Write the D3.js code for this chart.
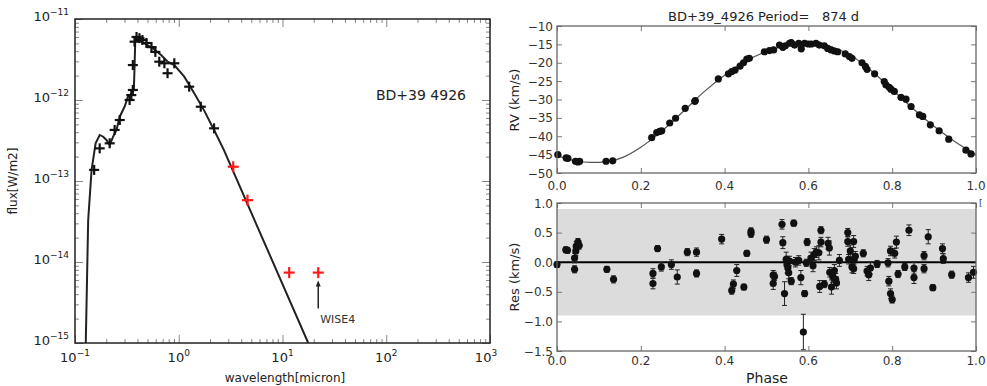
<!DOCTYPE html>
<html><head><meta charset="utf-8">
<script src="https://cdn.jsdelivr.net/npm/d3@7"></script>
<style>body{margin:0;background:#fff}svg{display:block;font-family:"DejaVu Sans",sans-serif}</style>
</head><body><svg id="c" width="987" height="386"></svg>
<script>
// ---------- SED panel data ----------
const sedModelWave = [0.127,0.134,0.1445,0.158,0.173,0.187,0.201,0.216,0.233,0.251,0.27,0.301,0.324,0.353,0.369,0.375,0.381,0.404,0.468,0.562,0.676,0.782,0.906,1.13,1.41,1.75,2.19,2.72,17.7];
const sedModelFlux = [1.0e-15,3.3e-14,1.37e-13,2.92e-13,3.7e-13,3.52e-13,3.21e-13,2.78e-13,3.52e-13,4.27e-13,6.22e-13,8.3e-13,1.1e-12,1.21e-12,1.33e-12,2.58e-12,5.5e-12,5.5e-12,5.0e-12,4.35e-12,3.6e-12,2.97e-12,2.7e-12,1.94e-12,1.21e-12,7.5e-13,4.27e-13,2.42e-13,1.0e-15];
const photWave = [0.153,0.173,0.216,0.241,0.27,0.336,0.349,0.361,0.361,0.375,0.392,0.418,0.447,0.488,0.546,0.595,0.649,0.727,0.78,0.906,1.26,1.63,2.19];
const photFlux = [1.37e-13,2.53e-13,2.92e-13,4.27e-13,5.66e-13,1.0e-12,1.15e-12,1.33e-12,2.7e-12,5.25e-12,6.0e-12,5.8e-12,5.5e-12,5.06e-12,4.5e-12,3.92e-12,2.97e-12,2.84e-12,2.14e-12,2.84e-12,1.46e-12,8.26e-13,4.47e-13];
const wiseWave = [3.35,4.6,11.6,22.1];
const wiseFlux = [1.5e-13,5.8e-14,7.4e-15,7.4e-15];
const sedXTicks = [0.1,1,10,100,1000];
const sedXExp = ["\u22121","0","1","2","3"];
const sedYTicks = [1e-11,1e-12,1e-13,1e-14,1e-15];
const sedYExp = ["\u221211","\u221212","\u221213","\u221214","\u221215"];

// ---------- RV panel data ----------
const rvPhase = [0.002,0.022,0.026,0.044,0.05,0.054,0.117,0.133,0.226,0.238,0.245,0.25,0.269,0.283,0.306,0.329,0.33,0.385,0.409,0.417,0.425,0.437,0.445,0.453,0.459,0.495,0.507,0.517,0.531,0.539,0.545,0.555,0.559,0.567,0.577,0.583,0.591,0.6,0.607,0.618,0.626,0.638,0.646,0.654,0.662,0.67,0.688,0.698,0.704,0.728,0.736,0.74,0.758,0.781,0.785,0.793,0.797,0.805,0.821,0.833,0.845,0.865,0.873,0.891,0.912,0.935,0.976,0.988];
const rvValue = [-45.0,-45.9,-46.0,-46.8,-47.0,-46.8,-46.8,-46.7,-40.4,-39.0,-38.7,-38.5,-36.4,-35.1,-32.4,-30.5,-30.3,-24.4,-23.0,-22.4,-22.0,-20.9,-20.0,-19.0,-18.8,-17.0,-16.7,-16.5,-15.2,-15.8,-15.4,-14.7,-14.5,-15.2,-14.7,-16.2,-14.7,-14.9,-14.9,-14.7,-15.2,-15.4,-16.1,-16.5,-16.8,-17.0,-17.6,-18.3,-18.8,-20.0,-21.0,-21.8,-23.0,-25.1,-26.0,-26.7,-27.2,-27.8,-29.4,-29.9,-31.9,-34.2,-34.6,-36.9,-38.5,-40.8,-43.8,-44.8];
const fitPhase = [0.0,0.02,0.05,0.08,0.1,0.13,0.16,0.2,0.25,0.3,0.35,0.4,0.45,0.5,0.55,0.6,0.65,0.7,0.75,0.8,0.85,0.9,0.95,1.0];
const fitRV = [-45.2,-46.0,-46.8,-47.1,-47.1,-46.7,-45.6,-43.0,-38.6,-33.4,-28.0,-23.4,-19.6,-16.9,-15.3,-14.8,-15.5,-17.9,-22.2,-27.3,-32.5,-37.3,-41.5,-45.0];
const rvYTicks = [-10,-15,-20,-25,-30,-35,-40,-45,-50];
const phaseTicks = [0,0.2,0.4,0.6,0.8,1.0];

// ---------- Residual panel data ----------
const resPhase = [0.0,0.021,0.025,0.042,0.042,0.045,0.046,0.05,0.053,0.119,0.135,0.229,0.229,0.24,0.249,0.273,0.287,0.311,0.333,0.333,0.393,0.417,0.421,0.429,0.446,0.453,0.463,0.463,0.5,0.516,0.516,0.519,0.537,0.539,0.543,0.547,0.549,0.551,0.553,0.555,0.559,0.565,0.569,0.577,0.582,0.588,0.591,0.595,0.597,0.606,0.611,0.614,0.619,0.625,0.627,0.63,0.63,0.638,0.647,0.65,0.651,0.655,0.658,0.662,0.665,0.667,0.674,0.694,0.694,0.696,0.7,0.704,0.708,0.709,0.712,0.708,0.731,0.74,0.744,0.748,0.764,0.79,0.792,0.796,0.796,0.8,0.806,0.81,0.814,0.83,0.84,0.852,0.852,0.876,0.876,0.886,0.897,0.92,0.922,0.942,0.982,0.994];
const resValue = [-0.04,0.21,0.20,0.07,-0.12,0.19,0.27,0.34,0.28,-0.12,-0.29,-0.19,-0.36,0.23,-0.08,-0.04,-0.25,0.17,0.17,-0.19,0.39,-0.48,-0.37,-0.14,-0.42,0.15,0.52,0.48,0.38,-0.22,-0.36,-0.24,0.64,0.33,-0.53,0.05,-0.04,-0.10,-0.18,0.02,-0.32,0.66,0.0,0.03,-0.26,-1.18,-0.53,-0.01,0.34,0.07,-0.06,0.13,0.17,0.16,-0.41,0.54,0.34,-0.37,0.32,0.24,-0.17,-0.42,-0.24,-0.14,-0.29,-0.35,0.03,0.50,0.35,0.05,0.19,-0.08,0.35,0.05,0.10,-0.11,0.15,-0.15,-0.21,-0.10,-0.03,-0.01,-0.32,0.19,-0.53,-0.63,0.15,0.34,-0.20,-0.08,0.54,-0.10,-0.26,0.11,-0.11,0.43,-0.43,0.23,0.06,-0.21,-0.26,-0.17];
const resError = [0.05,0.05,0.05,0.08,0.06,0.08,0.08,0.06,0.06,0.05,0.06,0.08,0.09,0.05,0.07,0.08,0.12,0.06,0.07,0.06,0.08,0.06,0.07,0.1,0.05,0.05,0.06,0.06,0.06,0.08,0.1,0.07,0.08,0.1,0.2,0.12,0.14,0.1,0.1,0.08,0.06,0.05,0.08,0.08,0.12,0.3,0.05,0.06,0.06,0.1,0.1,0.1,0.09,0.12,0.1,0.06,0.08,0.06,0.1,0.12,0.08,0.12,0.1,0.1,0.1,0.1,0.1,0.07,0.08,0.08,0.1,0.1,0.1,0.08,0.08,0.08,0.06,0.08,0.1,0.1,0.06,0.07,0.08,0.08,0.08,0.06,0.08,0.1,0.06,0.06,0.09,0.1,0.1,0.07,0.07,0.12,0.05,0.08,0.08,0.06,0.08,0.1];
const resYTicks = [1.0,0.5,0.0,-0.5,-1.0,-1.5];
const resBand = [-0.9,0.9];

// ---------- drawing ----------
const svg = d3.select("#c");
const minus = s => s.replace("-", "\u2212");

// ===== Left SED panel =====
const L = {x0:75, x1:490, y0:19, y1:343};
const xL = d3.scaleLog().domain([0.1,1000]).range([L.x0,L.x1]);
const yL = d3.scaleLog().domain([1e-15,1e-11]).range([L.y1,L.y0]);
const minorX = [], minorY = [];
for (let d=-1; d<3; d++) for (let m=2; m<10; m++) minorX.push(m*Math.pow(10,d));
for (let d=-15; d<-11; d++) for (let m=2; m<10; m++) minorY.push(m*Math.pow(10,d));

const gL = svg.append("g");
const clipL = svg.append("clipPath").attr("id","clipL");
clipL.append("rect").attr("x",L.x0).attr("y",L.y0).attr("width",L.x1-L.x0).attr("height",L.y1-L.y0);

function tickAxes(g, sx, sy, box, xMaj, xMin, yMaj, yMin, col, majLen, minLen) {
  const defs = [
    [d3.axisBottom, sx, xMaj, xMin, `translate(0,${box.y1})`],
    [d3.axisTop, sx, xMaj, xMin, `translate(0,${box.y0})`],
    [d3.axisLeft, sy, yMaj, yMin, `translate(${box.x0},0)`],
    [d3.axisRight, sy, yMaj, yMin, `translate(${box.x1},0)`]
  ];
  defs.forEach(([ax, sc, maj, mn, tr]) => {
    const a = g.append("g").attr("transform", tr).call(ax(sc).tickValues(maj).tickSize(-majLen).tickFormat(""));
    a.select(".domain").remove();
    a.selectAll("line").attr("stroke", col);
    if (mn.length) {
      const b = g.append("g").attr("transform", tr).call(ax(sc).tickValues(mn).tickSize(-minLen).tickFormat(""));
      b.select(".domain").remove();
      b.selectAll("line").attr("stroke", col);
    }
  });
}
tickAxes(gL, xL, yL, L, sedXTicks, minorX, sedYTicks, minorY, "#888", 8, 4);

// model curve
const lineL = d3.line().x((d,i)=>xL(sedModelWave[i])).y((d,i)=>yL(sedModelFlux[i]));
gL.append("path").datum(sedModelWave).attr("d", lineL).attr("fill","none")
  .attr("stroke","#222").attr("stroke-width",2).attr("clip-path","url(#clipL)");

// photometry crosses
function plus(g, x, y, h, col, w) {
  g.append("line").attr("x1",x-h).attr("x2",x+h).attr("y1",y).attr("y2",y).attr("stroke",col).attr("stroke-width",w);
  g.append("line").attr("x1",x).attr("x2",x).attr("y1",y-h).attr("y2",y+h).attr("stroke",col).attr("stroke-width",w);
}
photWave.forEach((w,i)=>plus(gL, xL(w), yL(photFlux[i]), 5, "#111", 2.2));
wiseWave.forEach((w,i)=>plus(gL, xL(w), yL(wiseFlux[i]), 5.5, "#ff1a1a", 2.2));

// WISE4 arrow
const ax4 = xL(wiseWave[3]);
gL.append("line").attr("x1",ax4).attr("x2",ax4).attr("y1",yL(wiseFlux[3])+10).attr("y2",yL(wiseFlux[3])+36)
  .attr("stroke","#222").attr("stroke-width",1.5);
gL.append("path").attr("d",`M${ax4-2.5},${yL(wiseFlux[3])+14} L${ax4},${yL(wiseFlux[3])+8} L${ax4+2.5},${yL(wiseFlux[3])+14} Z`).attr("fill","#222");
gL.append("text").attr("x",ax4+2).attr("y",yL(wiseFlux[3])+50).attr("font-size",11).attr("fill","#333").text("WISE4");

// border
gL.append("rect").attr("x",L.x0).attr("y",L.y0).attr("width",L.x1-L.x0).attr("height",L.y1-L.y0)
  .attr("fill","none").attr("stroke","#222").attr("stroke-width",1.5);

// tick labels
sedXTicks.forEach((v,i)=>{
  const t = gL.append("text").attr("x",xL(v)+ (i===4?-4:0)).attr("y",362).attr("text-anchor","middle")
    .attr("font-size",13).attr("fill","#222");
  t.append("tspan").text("10");
  t.append("tspan").attr("dy",-6).attr("font-size",9).text(sedXExp[i]);
});
sedYTicks.forEach((v,i)=>{
  const t = gL.append("text").attr("x",69).attr("y",yL(v)+2).attr("text-anchor","end")
    .attr("font-size",13).attr("fill","#222");
  t.append("tspan").text("10");
  t.append("tspan").attr("dy",-6).attr("font-size",9).text(sedYExp[i]);
});
gL.append("text").attr("transform","translate(17,181) rotate(-90)").attr("text-anchor","middle")
  .attr("font-size",12).attr("fill","#222").text("flux[W/m2]");
gL.append("text").attr("x",285).attr("y",382).attr("text-anchor","middle")
  .attr("font-size",12).attr("fill","#222").text("wavelength[micron]");
gL.append("text").attr("x",421).attr("y",100).attr("text-anchor","middle")
  .attr("font-size",14).attr("fill","#222").text("BD+39 4926");

// ===== Right top RV panel =====
const T = {x0:557, x1:976, y0:26, y1:173};
const xP = d3.scaleLinear().domain([0,1]).range([T.x0,T.x1]);
const yT = d3.scaleLinear().domain([-50,-10]).range([T.y1,T.y0]);
const gT = svg.append("g");
tickAxes(gT, xP, yT, T, phaseTicks, [], rvYTicks, [], "#777", 5, 0);
const lineT = d3.line().x((d,i)=>xP(fitPhase[i])).y((d,i)=>yT(fitRV[i])).curve(d3.curveCatmullRom);
gT.append("path").datum(fitPhase).attr("d",lineT).attr("fill","none").attr("stroke","#555").attr("stroke-width",1.2);
gT.selectAll("circle.rv").data(rvPhase).join("circle").attr("class","rv")
  .attr("cx",d=>xP(d)).attr("cy",(d,i)=>yT(rvValue[i])).attr("r",3.6).attr("fill","#111");
gT.append("rect").attr("x",T.x0).attr("y",T.y0).attr("width",T.x1-T.x0).attr("height",T.y1-T.y0)
  .attr("fill","none").attr("stroke","#666").attr("stroke-width",1.3);
rvYTicks.forEach(v=>gT.append("text").attr("x",553).attr("y",yT(v)+4.5).attr("text-anchor","end")
  .attr("font-size",12).attr("fill","#333").text(minus(String(v))));
phaseTicks.forEach(v=>gT.append("text").attr("x",xP(v)).attr("y",190).attr("text-anchor","middle")
  .attr("font-size",12).attr("fill","#333").text(v.toFixed(1)));
gT.append("text").attr("transform","translate(519,100) rotate(-90)").attr("text-anchor","middle")
  .attr("font-size",13).attr("fill","#222").text("RV (km/s)");
gT.append("text").attr("x",668).attr("y",21).attr("font-size",13).attr("fill","#222")
  .attr("xml:space","preserve").style("white-space","pre").text("BD+39_4926 Period=   874 d");
gT.append("text").attr("x",979).attr("y",206).attr("font-size",9).attr("fill","#333").text("[");

// ===== Right bottom residual panel =====
const B = {x0:557, x1:976, y0:203, y1:351};
const yB = d3.scaleLinear().domain([-1.5,1.0]).range([B.y1,B.y0]);
const gB = svg.append("g");
gB.append("rect").attr("x",B.x0).attr("y",yB(resBand[1])).attr("width",B.x1-B.x0)
  .attr("height",yB(resBand[0])-yB(resBand[1])).attr("fill","#dcdcdc");
tickAxes(gB, xP, yB, B, phaseTicks, [], resYTicks, [], "#777", 5, 0);
gB.append("line").attr("x1",B.x0).attr("x2",B.x1).attr("y1",yB(0)).attr("y2",yB(0))
  .attr("stroke","#000").attr("stroke-width",2);
resPhase.forEach((p,i)=>{
  const x = xP(p), y1 = yB(resValue[i]+resError[i]), y2 = yB(resValue[i]-resError[i]);
  gB.append("line").attr("x1",x).attr("x2",x).attr("y1",y1).attr("y2",y2).attr("stroke","#222").attr("stroke-width",1);
  gB.append("line").attr("x1",x-2.5).attr("x2",x+2.5).attr("y1",y1).attr("y2",y1).attr("stroke","#222").attr("stroke-width",1);
  gB.append("line").attr("x1",x-2.5).attr("x2",x+2.5).attr("y1",y2).attr("y2",y2).attr("stroke","#222").attr("stroke-width",1);
});
gB.selectAll("circle.res").data(resPhase).join("circle").attr("class","res")
  .attr("cx",d=>xP(d)).attr("cy",(d,i)=>yB(resValue[i])).attr("r",3.6).attr("fill","#111");
gB.append("rect").attr("x",B.x0).attr("y",B.y0).attr("width",B.x1-B.x0).attr("height",B.y1-B.y0)
  .attr("fill","none").attr("stroke","#666").attr("stroke-width",1.3);
resYTicks.forEach(v=>gB.append("text").attr("x",553).attr("y",yB(v)+4.5).attr("text-anchor","end")
  .attr("font-size",12).attr("fill","#333").text(minus(v.toFixed(1))));
phaseTicks.forEach(v=>gB.append("text").attr("x",xP(v)).attr("y",365).attr("text-anchor","middle")
  .attr("font-size",12).attr("fill","#333").text(v.toFixed(1)));
gB.append("text").attr("transform","translate(519,277) rotate(-90)").attr("text-anchor","middle")
  .attr("font-size",13).attr("fill","#222").text("Res (km/s)");
gB.append("text").attr("x",767).attr("y",383).attr("text-anchor","middle")
  .attr("font-size",14).attr("fill","#222").text("Phase");
</script></body></html>
